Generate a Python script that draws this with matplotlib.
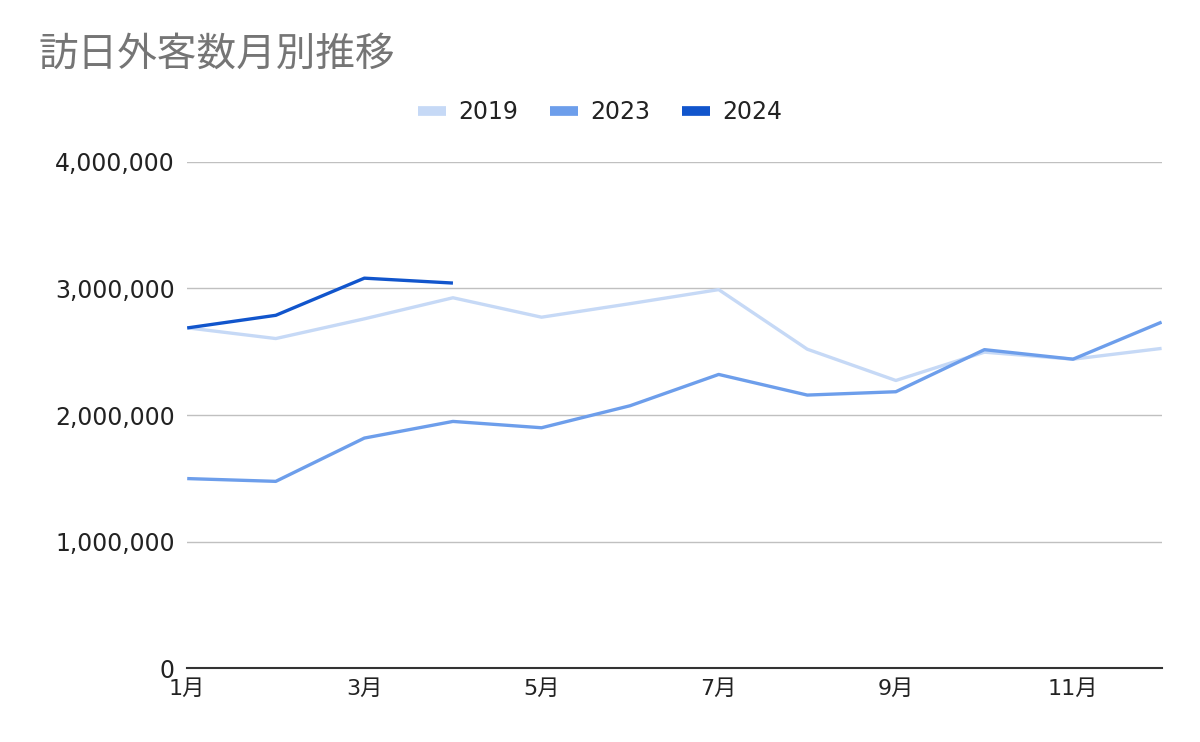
import matplotlib
matplotlib.use("Agg")
import matplotlib.pyplot as plt
from matplotlib.lines import Line2D
from matplotlib.ticker import FuncFormatter

plt.rcParams['font.family'] = ['DejaVu Sans', 'Noto Sans CJK JP']

# monthly visitor counts
months = ['1月', '2月', '3月', '4月', '5月', '6月', '7月', '8月', '9月', '10月', '11月', '12月']
v2019 = [2689339, 2604322, 2760136, 2926685, 2773091, 2880041,
         2991189, 2520134, 2272883, 2496568, 2441274, 2526387]
v2023 = [1497472, 1475455, 1817623, 1949236, 1899176, 2073308,
         2320644, 2157534, 2183868, 2516500, 2441300, 2734000]
v2024 = [2688100, 2788000, 3081600, 3042900]
series = [('2019', v2019, '#c6d9f6'), ('2023', v2023, '#6d9eeb'), ('2024', v2024, '#1155cc')]

fig = plt.figure(figsize=(12, 7.42), dpi=100)
ax = fig.add_axes([0.156, 0.0997, 0.812, 0.682])

handles = []
for name, vals, col in series:
    ax.plot(range(len(vals)), vals, color=col, lw=2.4, solid_capstyle='butt')
    handles.append(Line2D([], [], color=col, lw=7, solid_capstyle='butt'))

ax.set_xlim(0, 11)
ax.set_ylim(0, 4000000)
ax.set_yticks([0, 1000000, 2000000, 3000000, 4000000])
ax.yaxis.set_major_formatter(FuncFormatter(lambda v, p: f'{int(v):,}'))
ax.set_xticks(range(0, 12, 2))
ax.set_xticklabels(months[::2])
ax.grid(axis='y', color='#c0c0c0', lw=1)
ax.set_axisbelow(True)
for s in ['top', 'right', 'left']:
    ax.spines[s].set_visible(False)
ax.spines['bottom'].set_color('#333333')
ax.spines['bottom'].set_linewidth(1.5)
ax.tick_params(length=0, colors='#222222')
ax.tick_params(axis='y', pad=9, labelsize=17)
ax.tick_params(axis='x', pad=8, labelsize=16)

fig.text(0.032, 0.926, '訪日外客数月別推移', fontsize=28.5, color='#757575', va='center',
         family=['Noto Sans CJK JP', 'DejaVu Sans'])
fig.legend(handles, [s[0] for s in series], loc='center', bbox_to_anchor=(0.5, 0.849),
           ncol=3, frameon=False, fontsize=17, handlelength=1.2, columnspacing=1.35,
           handletextpad=0.5, labelcolor='#222222')

fig.savefig('out.png', dpi=100)
